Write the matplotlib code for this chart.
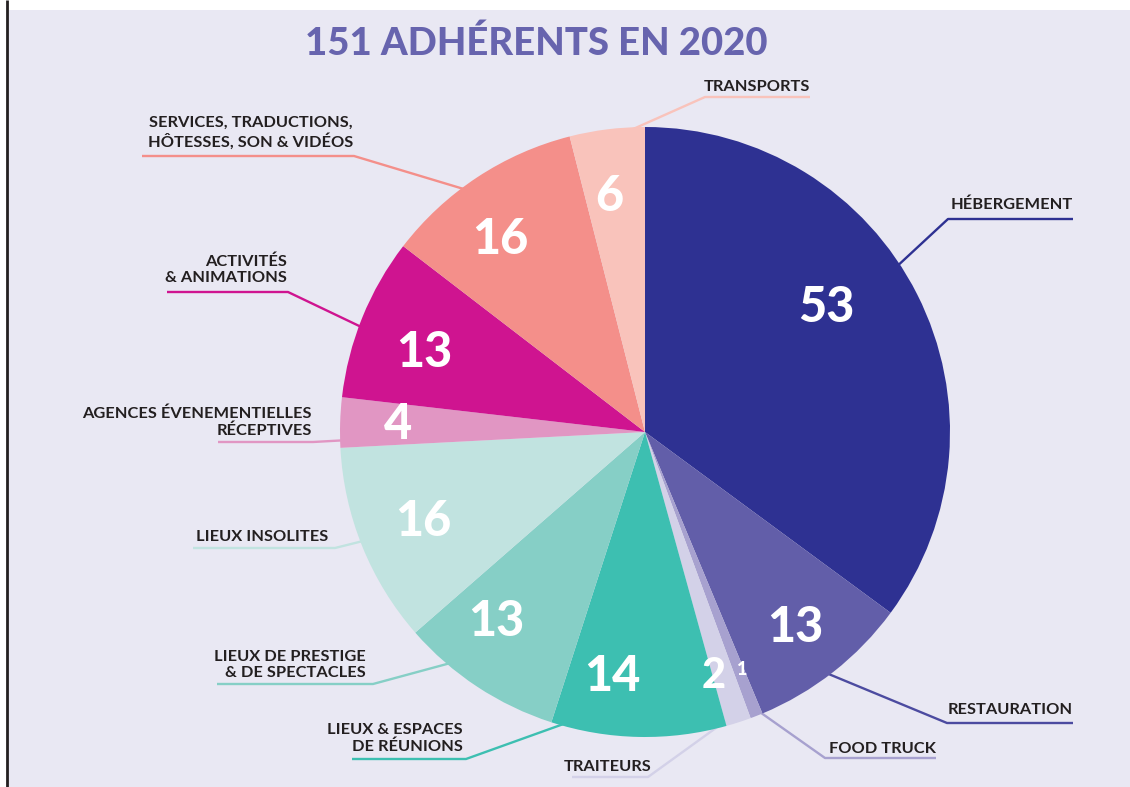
import numpy as np
import matplotlib
matplotlib.use('Agg')
import matplotlib.pyplot as plt
from matplotlib.patches import Rectangle

# Données
categories = [
    "HÉBERGEMENT", "RESTAURATION", "FOOD TRUCK", "TRAITEURS",
    "LIEUX & ESPACES\nDE RÉUNIONS", "LIEUX DE PRESTIGE\n& DE SPECTACLES",
    "LIEUX INSOLITES", "AGENCES ÉVENEMENTIELLES\nRÉCEPTIVES",
    "ACTIVITÉS\n& ANIMATIONS", "SERVICES, TRADUCTIONS,\nHÔTESSES, SON & VIDÉOS",
    "TRANSPORTS",
]
values = [53, 13, 1, 2, 14, 13, 16, 4, 13, 16, 6]
colors = ["#2e3192", "#625ea9", "#a7a1cf", "#d3d1e8", "#3dbfb1", "#86cfc6",
          "#c1e3e0", "#e196c3", "#cf1490", "#f48f8a", "#f9c3bb"]
line_colors = ["#2e3192", "#4c4ba0", "#a7a1cf", "#d3d1e8", "#3dbfb1", "#86cfc6",
               "#c1e3e0", "#e196c3", "#cf1490", "#f48f8a", "#f9c3bb"]
title = "151 ADHÉRENTS EN 2020"

# Mise en page (pixels, y vers le bas)
center = (645, 432)
radius = 305
# coude de la ligne, autre bout du soulignement, y du soulignement
elbow_x = [948, 947, 825, 648, 466, 373, 335, 313, 288, 354, 705]
under_end = [1073, 1073, 936, 572, 352, 217, 193, 218, 167, 142, 810]
under_y = [219, 723, 758, 777, 759, 684, 548, 442, 292, 156, 97]
text_x = [1073, 948, 936, 651, 463, 366, 328, 312, 287, 353, 810]
text_y = [209, 714, 753, 771, 751, 677, 541, 435, 282, 147, 91]
text_ha = ["right", "left", "right", "right", "right", "right", "right",
           "right", "right", "right", "right"]
anchor_frac = [0.45, 0.56, 0.5, 0.5, 0.87, 0.69, 0.52, 0.15, 0.44, 0.44, 0.57]
num_frac = [0.44, 0.52, 0.2, 0.95, 0.69, 0.65, 0.5, 0.5, 0.43, 0.41, 0.4]
num_r = [0.72, 0.81, 0.84, 0.83, 0.81, 0.79, 0.785, 0.81, 0.77, 0.79, 0.78]
num_size = [35, 35, 13, 30, 35, 35, 35, 35, 35, 35, 35]

FONT = "Lato"
TXT = "#231f20"
BG = "#e9e8f3"

fig = plt.figure(figsize=(11.3, 7.87), dpi=100)
fig.patch.set_facecolor("white")
ax = fig.add_axes([0, 0, 1, 1])

# y inversé : counterclock=True + startangle=270 -> sens horaire depuis le haut
wedges, _ = ax.pie(values, colors=colors, startangle=270, counterclock=True,
                   center=center, radius=radius,
                   wedgeprops=dict(linewidth=0, zorder=3))

ax.set_xlim(0, 1130)
ax.set_ylim(787, 0)
ax.axis("off")

ax.add_patch(Rectangle((8, 10), 1130, 787, facecolor=BG, edgecolor="none", zorder=0))
ax.plot([7, 7], [0, 787], color=TXT, lw=2, zorder=5, solid_capstyle="butt")


def point(w, frac, r):
    th = np.deg2rad(w.theta1 + frac * (w.theta2 - w.theta1))
    return center[0] + r * np.cos(th), center[1] + r * np.sin(th)


for i, w in enumerate(wedges):
    ax_, ay_ = point(w, anchor_frac[i], radius * 0.97)
    ax.plot([ax_, elbow_x[i], under_end[i]], [ay_, under_y[i], under_y[i]],
            color=line_colors[i], lw=1.7, zorder=2, solid_capstyle="butt")
    ax.text(text_x[i], text_y[i], categories[i], ha=text_ha[i], va="baseline",
            multialignment=text_ha[i], fontsize=11.8, fontfamily=FONT,
            fontweight="bold", color=TXT, linespacing=1.22, zorder=6)

    nx_, ny_ = point(w, num_frac[i], radius * num_r[i])
    ax.text(nx_, ny_, str(values[i]), ha="center", va="center",
            fontsize=num_size[i], fontfamily=FONT, fontweight="black",
            color="white", zorder=6)

ax.text(536, 43, title, ha="center", va="center", fontsize=27.5,
        fontfamily=FONT, fontweight="black", color="#6764ae", zorder=6)

fig.savefig("out.png", dpi=100, facecolor=fig.get_facecolor())
